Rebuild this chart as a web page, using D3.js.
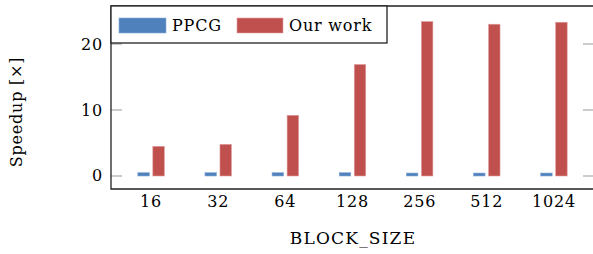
<!DOCTYPE html>
<html>
<head>
<meta charset="utf-8">
<script src="https://cdn.jsdelivr.net/npm/d3@7"></script>
<style>
  body { margin: 0; background: #fff; }
  text { font-family: "DejaVu Serif", serif; letter-spacing: 0.8px; }
</style>
</head>
<body>
<svg id="chart"></svg>
<script>
// values
var blockSizes = ["16", "32", "64", "128", "256", "512", "1024"];
var ppcg = [0.5, 0.5, 0.5, 0.5, 0.45, 0.45, 0.45];
var ourWork = [4.5, 4.8, 9.2, 16.9, 23.4, 23.0, 23.3];
var yTicks = [0, 10, 20];

var svgWidth = 593, svgHeight = 254;
var mLeft = 111, mRight = 594, mTop = 6, mBottom = 189;
var fontSize = "16px";

var svg = d3.select("#chart")
    .attr("width", svgWidth)
    .attr("height", svgHeight);

var x = d3.scaleBand()
    .domain(blockSizes)
    .range([mLeft + 6.5, mRight - 6.5])
    .padding(0);

var y = d3.scaleLinear()
    .domain([-1.97, 25.76])
    .range([mBottom, mTop]);

var barW = 11.5, off = 7.5;

// ticks, gray, inside on both sides
yTicks.forEach(function(t) {
  svg.append("line")
    .attr("x1", mLeft).attr("x2", mLeft + 11)
    .attr("y1", y(t)).attr("y2", y(t))
    .style("stroke", "#b0b0b0").style("stroke-width", 1.3);
  svg.append("line")
    .attr("x1", mRight - 11).attr("x2", mRight)
    .attr("y1", y(t)).attr("y2", y(t))
    .style("stroke", "#b0b0b0").style("stroke-width", 1.3);
  svg.append("text").text(t)
    .attr("x", mLeft - 8)
    .attr("y", y(t) + 5.5)
    .attr("text-anchor", "end")
    .style("font-size", fontSize);
});

svg.selectAll(".ppcg")
  .data(ppcg)
  .enter()
  .append("rect")
    .attr("class", "ppcg")
    .attr("x", function(d, i) { return x(blockSizes[i]) + x.bandwidth() / 2 - off - barW / 2; })
    .attr("y", function(d) { return y(d); })
    .attr("width", barW)
    .attr("height", function(d) { return y(0) - y(d); })
    .style("fill", "#4f81bd")
    .style("stroke", "#8aaad4")
    .style("stroke-width", 0.6);

svg.selectAll(".ours")
  .data(ourWork)
  .enter()
  .append("rect")
    .attr("class", "ours")
    .attr("x", function(d, i) { return x(blockSizes[i]) + x.bandwidth() / 2 + off - barW / 2; })
    .attr("y", function(d) { return y(d); })
    .attr("width", barW)
    .attr("height", function(d) { return y(0) - y(d); })
    .style("fill", "#c0504d")
    .style("stroke", "#e0a0a0")
    .style("stroke-width", 0.6);

// x axis labels without ticks
var xAxis = d3.axisBottom(x).tickSize(0).tickPadding(7);
var gx = svg.append("g")
    .attr("transform", "translate(0," + mBottom + ")")
    .call(xAxis);
gx.select(".domain").remove();
gx.selectAll("text").style("font-size", fontSize).style("font-family", "DejaVu Serif, serif");

// frame: left, top, bottom
svg.append("path")
    .attr("d", "M" + mRight + "," + mTop + "H" + mLeft + "V" + mBottom + "H" + mRight)
    .style("fill", "none")
    .style("stroke", "#222")
    .style("stroke-width", 1.3);

// legend
var legend = svg.append("g");
legend.append("rect")
    .attr("x", mLeft).attr("y", mTop)
    .attr("width", 276).attr("height", 37)
    .style("fill", "#fff").style("stroke", "#222").style("stroke-width", 1.3);
legend.append("rect")
    .attr("x", 119).attr("y", 18).attr("width", 47).attr("height", 15)
    .style("fill", "#4f81bd").style("stroke", "#8aaad4").style("stroke-width", 0.6);
legend.append("text").text("PPCG")
    .attr("x", 172).attr("y", 31).style("font-size", fontSize);
legend.append("rect")
    .attr("x", 237).attr("y", 18).attr("width", 46).attr("height", 15)
    .style("fill", "#c0504d").style("stroke", "#e0a0a0").style("stroke-width", 0.6);
legend.append("text").text("Our work")
    .attr("x", 289).attr("y", 31).style("font-size", fontSize);

// axis titles
svg.append("text").text("Speedup [×]")
    .attr("text-anchor", "middle")
    .attr("transform", "translate(22,112)rotate(-90)")
    .style("font-size", fontSize);

svg.append("text").text("BLOCK_SIZE")
    .attr("text-anchor", "middle")
    .attr("x", 353).attr("y", 244)
    .style("font-size", "17px")
    .style("letter-spacing", "1.2px");
</script>
</body>
</html>
